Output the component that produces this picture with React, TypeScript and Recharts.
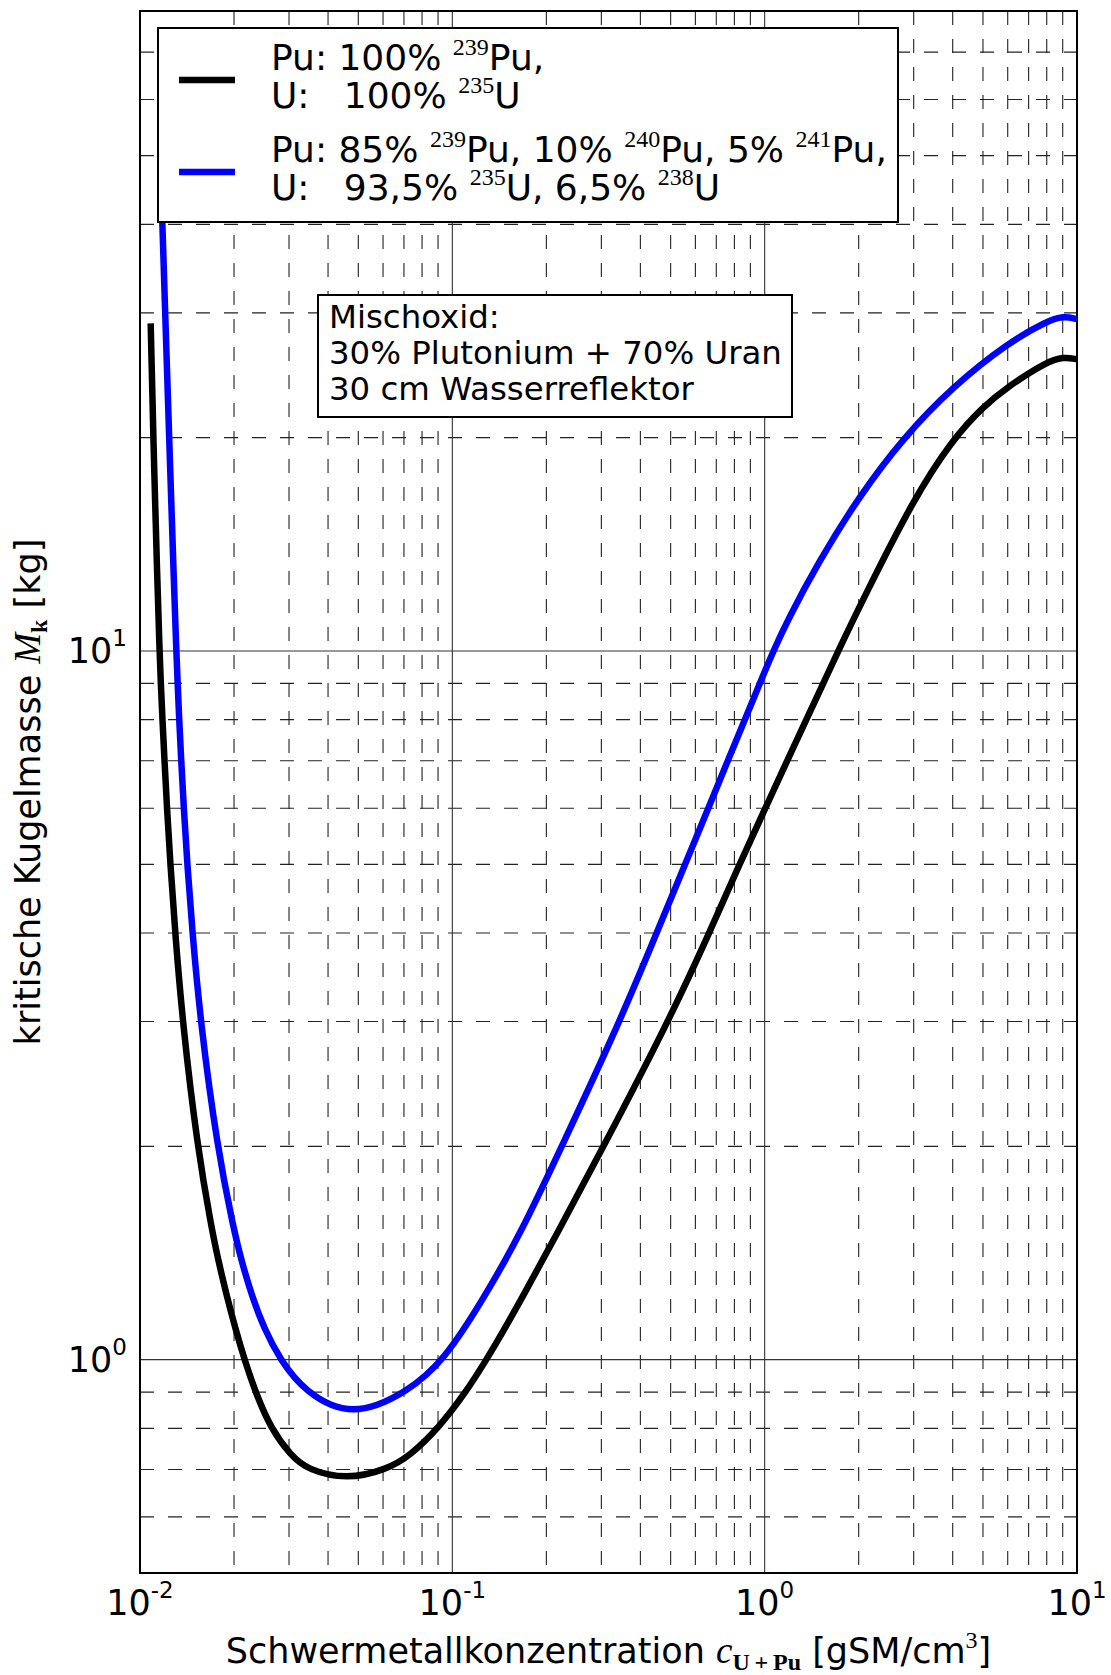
import { LineChart, Line, XAxis, YAxis, CartesianGrid, ReferenceArea } from "recharts";

// Pu: 100% 239Pu, U: 100% 235U
const blackX = [
  0.01082, 0.01103, 0.01136, 0.01155, 0.01166, 0.0118, 0.01198, 0.0122, 0.01251, 0.01296, 0.01368,
  0.01525, 0.01696, 0.01787, 0.01895, 0.02022, 0.02161, 0.02342, 0.02621, 0.03045, 0.03425, 0.0459,
  0.0617, 0.0732, 0.0902, 0.1106, 0.1285, 0.1428, 0.1665, 0.2155, 0.305, 0.492, 0.665, 0.83, 1.005,
  1.18, 1.36, 1.54, 1.72, 2.06, 3.0, 4.0, 5.0, 6.0, 8.0, 9.05, 10.0,
];
const blackY = [
  29.0, 20.0, 12.6, 10.0, 9.0, 8.0, 7.0, 6.0, 5.0, 4.0, 3.0,
  2.0, 1.529, 1.372, 1.231, 1.105, 1.0, 0.9, 0.8, 0.732, 0.7, 0.677,
  0.7, 0.732, 0.8, 0.9, 1.0, 1.081, 1.218, 1.5, 2.0, 3.0, 4.0, 5.0, 6.0,
  7.0, 8.0, 9.0, 10.0, 11.8, 16.4, 19.9, 22.1, 23.6, 25.6, 26.0, 25.8,
];

// Pu: 85% 239Pu, 10% 240Pu, 5% 241Pu; U: 93,5% 235U, 6,5% 238U
const blueX = [
  0.0116, 0.01179, 0.01204, 0.0124, 0.01283, 0.01307, 0.0132, 0.01335, 0.01355, 0.01381, 0.01417,
  0.01472, 0.01561, 0.01765, 0.01993, 0.0212, 0.0228, 0.025, 0.0281, 0.0337, 0.0477, 0.0721,
  0.0945, 0.1257, 0.1647, 0.2241, 0.344, 0.451, 0.556, 0.66, 0.762, 0.864, 0.965, 1.066, 1.19,
  1.48, 2.0, 2.78, 4.0, 6.0, 8.0, 9.05, 10.0,
];
const blueY = [
  50.0, 40.3, 30.0, 20.0, 12.6, 10.0, 9.0, 8.0, 7.0, 6.0, 5.0,
  4.0, 3.0, 2.0, 1.529, 1.372, 1.231, 1.105, 1.0, 0.9, 0.828, 0.9,
  1.0, 1.218, 1.5, 2.0, 3.0, 4.0, 5.0, 6.0, 7.0, 8.0, 9.0, 10.0, 11.1,
  13.3, 16.5, 20.0, 23.6, 27.2, 29.2, 29.7, 29.4,
];

const xTicks = [0.01, 0.1, 1, 10];
const yTicks = [1, 10];
const xMajorGrid = [0.1, 1];
const yMajorGrid = [1, 10];
const xMinorGrid = [
  0.02, 0.03, 0.04, 0.05, 0.06, 0.07, 0.08, 0.09,
  0.2, 0.3, 0.4, 0.5, 0.6, 0.7, 0.8, 0.9,
  2, 3, 4, 5, 6, 7, 8, 9,
];
const yMinorGrid = [0.6, 0.7, 0.8, 0.9, 2, 3, 4, 5, 6, 7, 8, 9, 20, 30, 40, 50, 60, 70];

const W = 1111;
const H = 1675;
const SANS = "'DejaVu Sans', sans-serif";
const MATH = "'Liberation Serif', 'DejaVu Serif', serif";

const zip = (xs: number[], ys: number[]) => xs.map((x, i) => ({ x, y: ys[i] }));

function XTick(props: any) {
  const { x, y, payload } = props;
  const e = Math.round(Math.log10(payload.value));
  return (
    <text x={x} y={y + 42} textAnchor="middle" fontFamily={SANS} fontSize={35} fill="#000">
      <tspan>10</tspan>
      <tspan dy={-17} fontSize={23}>{e}</tspan>
    </text>
  );
}

function YTick(props: any) {
  const { x, y, payload } = props;
  const e = Math.round(Math.log10(payload.value));
  return (
    <text x={x - 13} y={y + 12.5} textAnchor="end" fontFamily={SANS} fontSize={35} fill="#000">
      <tspan>10</tspan>
      <tspan dy={-17} fontSize={23}>{e}</tspan>
    </text>
  );
}

type Part = [string, boolean?];

function RichLine({ x, y, parts, size }: { x: number; y: number; parts: Part[]; size: number }) {
  let prevSup = false;
  return (
    <text x={x} y={y} fontFamily={SANS} fontSize={size} fill="#000" style={{ whiteSpace: "pre" }}>
      {parts.map(([t, sup], i) => {
        const dy = sup ? -15 : prevSup ? 15 : 0;
        prevSup = !!sup;
        return (
          <tspan key={i} dy={dy} fontFamily={sup ? MATH : SANS} fontSize={sup ? 24 : size}>
            {t}
          </tspan>
        );
      })}
    </text>
  );
}

export default function App() {
  const black = zip(blackX, blackY);
  const blue = zip(blueX, blueY);

  return (
    <div style={{ position: "absolute", left: 0, top: 0, width: W, height: H, background: "#fff" }}>
      <LineChart width={W} height={H} margin={{ top: 11, right: 34, bottom: 0, left: 0 }}>
        <CartesianGrid
          horizontalValues={yMinorGrid}
          verticalValues={xMinorGrid}
          stroke="#222"
          strokeWidth={1.1}
          strokeDasharray="14 14"
        />
        <CartesianGrid
          horizontalValues={yMajorGrid}
          verticalValues={xMajorGrid}
          stroke="#333"
          strokeWidth={1.1}
        />
        <XAxis
          dataKey="x"
          type="number"
          scale="log"
          domain={[0.01, 10]}
          allowDataOverflow
          ticks={xTicks}
          height={102}
          axisLine={false}
          tickLine={false}
          tickSize={0}
          tickMargin={0}
          interval={0}
          tick={(p: any) => <XTick {...p} />}
        />
        <YAxis
          type="number"
          scale="log"
          domain={[0.5, 80]}
          allowDataOverflow
          ticks={yTicks}
          width={140}
          axisLine={false}
          tickLine={false}
          tickSize={0}
          tickMargin={0}
          interval={0}
          tick={(p: any) => <YTick {...p} />}
        />
        <Line
          data={black}
          dataKey="y"
          type="basis"
          stroke="#000000"
          strokeWidth={6.5}
          dot={false}
          isAnimationActive={false}
        />
        <Line
          data={blue}
          dataKey="y"
          type="basis"
          stroke="#0000ff"
          strokeWidth={6.5}
          dot={false}
          isAnimationActive={false}
        />
        <ReferenceArea
          x1={0.01}
          x2={10}
          y1={0.5}
          y2={80}
          fill="none"
          fillOpacity={0}
          stroke="#000"
          strokeWidth={2}
          ifOverflow="visible"
        />
      </LineChart>

      <svg
        width={W}
        height={H}
        style={{ position: "absolute", left: 0, top: 0, pointerEvents: "none" }}
      >
        {/* legend */}
        <rect x={158} y={28} width={740} height={194} fill="#fff" stroke="#000" strokeWidth={2} />
        <line x1={179} x2={235} y1={80} y2={80} stroke="#000" strokeWidth={6.5} />
        <line x1={179} x2={235} y1={172} y2={172} stroke="#0000ff" strokeWidth={6.5} />
        <RichLine x={271} y={70} size={36} parts={[["Pu: 100% "], ["239", true], ["Pu,"]]} />
        <RichLine x={271} y={108} size={36} parts={[["U:   100% "], ["235", true], ["U"]]} />
        <RichLine
          x={271}
          y={162}
          size={36}
          parts={[["Pu: 85% "], ["239", true], ["Pu, 10% "], ["240", true], ["Pu, 5% "], ["241", true], ["Pu,"]]}
        />
        <RichLine
          x={271}
          y={200}
          size={36}
          parts={[["U:   93,5% "], ["235", true], ["U, 6,5% "], ["238", true], ["U"]]}
        />

        {/* annotation */}
        <rect x={318} y={295} width={474} height={122} fill="#fff" stroke="#000" strokeWidth={2} />
        <text x={329} fontFamily={SANS} fontSize={32.4} fill="#000">
          <tspan x={329} y={328}>Mischoxid:</tspan>
          <tspan x={329} y={364}>30% Plutonium + 70% Uran</tspan>
          <tspan x={329} y={400}>30 cm Wasserreflektor</tspan>
        </text>

        {/* axis titles */}
        <text x={608.5} y={1663} textAnchor="middle" fontFamily={SANS} fontSize={35} fill="#000" style={{ whiteSpace: "pre" }}>
          <tspan>Schwermetallkonzentration </tspan>
          <tspan fontFamily={MATH} fontStyle="italic" fontSize={37}>c</tspan>
          <tspan fontFamily={MATH} fontWeight="bold" fontSize={24} dy={7}>{"U\u2009+\u2009Pu"}</tspan>
          <tspan dy={-7}> [gSM/cm</tspan>
          <tspan fontFamily={MATH} fontSize={24} dy={-15}>3</tspan>
          <tspan dy={15}>]</tspan>
        </text>
        <text
          transform="translate(40,792) rotate(-90)"
          textAnchor="middle"
          fontFamily={SANS}
          fontSize={35}
          fill="#000"
          style={{ whiteSpace: "pre" }}
        >
          <tspan>kritische Kugelmasse </tspan>
          <tspan fontFamily={MATH} fontStyle="italic" fontSize={37}>M</tspan>
          <tspan fontFamily={MATH} fontWeight="bold" fontSize={24} dy={7}>k</tspan>
          <tspan dy={-7}> [kg]</tspan>
        </text>
      </svg>
    </div>
  );
}
